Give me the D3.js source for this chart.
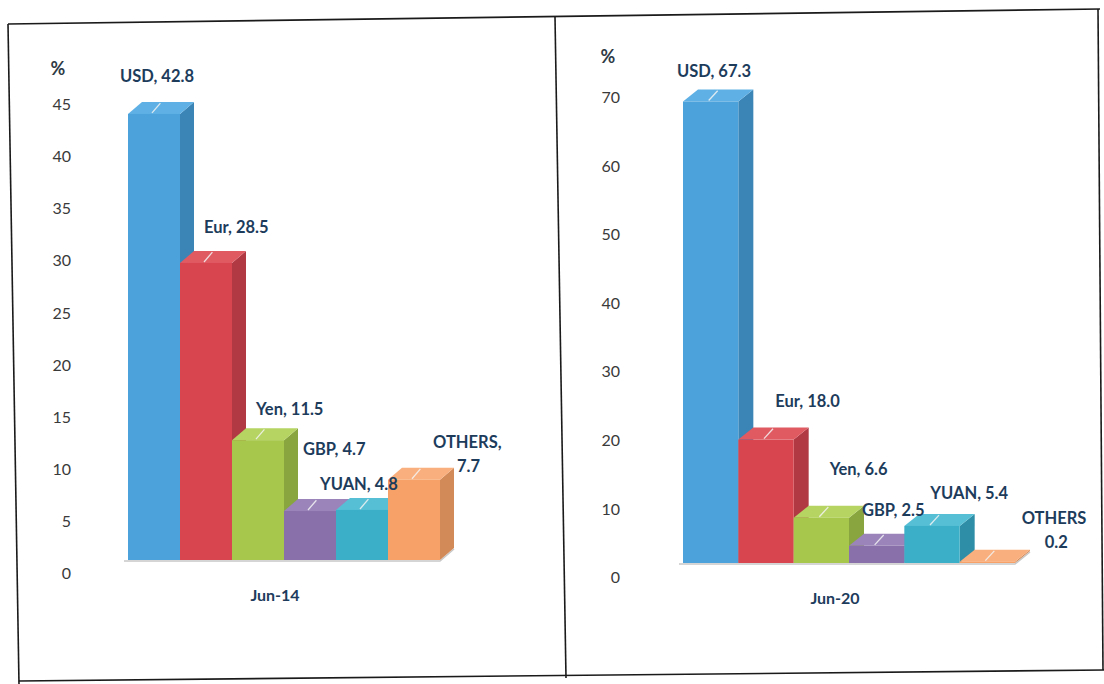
<!DOCTYPE html>
<html>
<head>
<meta charset="utf-8">
<script src="https://cdn.jsdelivr.net/npm/d3@7"></script>
<style>
  html, body { margin: 0; padding: 0; background: #ffffff; }
  svg { display: block; }
  .tick-label { font-family: Lato, "Open Sans", sans-serif; font-size: 16px; fill: #3a3a3a; }
  .val-label { font-family: Lato, "Open Sans", sans-serif; font-size: 16.5px; font-weight: 700; fill: #1d3c5c; }
  .cat-label { font-family: Lato, "Open Sans", sans-serif; font-size: 16px; font-weight: 700; fill: #1d3c5c; }
</style>
</head>
<body>
<svg id="chart" width="1104" height="684"></svg>
<script>
// Currency shares (%) in two snapshots
const currencies = ["USD", "Eur", "Yen", "GBP", "YUAN", "OTHERS"];
const share2014 = [42.8, 28.5, 11.5, 4.7, 4.8, 7.7];
const share2020 = [67.3, 18.0, 6.6, 2.5, 5.4, 0.2];
const periods = ["Jun-14", "Jun-20"];
const ticks2014 = [0, 5, 10, 15, 20, 25, 30, 35, 40, 45];
const ticks2020 = [0, 10, 20, 30, 40, 50, 60, 70];

// Face colours per currency: front, side, top
const palette = {
  USD:    { front: "#4ca3db", side: "#3b84b6", top: "#5fb1e5" },
  Eur:    { front: "#d8454f", side: "#b03943", top: "#e05a62" },
  Yen:    { front: "#a7c74c", side: "#88a540", top: "#b6d462" },
  GBP:    { front: "#8a70ab", side: "#6f5a90", top: "#9a84ba" },
  YUAN:   { front: "#3cafc8", side: "#2f8ea7", top: "#56bfd5" },
  OTHERS: { front: "#f7a068", side: "#d38a59", top: "#f9b07e" }
};

const svg = d3.select("#chart");

// Panel frames
const frame = svg.append("g").attr("fill", "none").attr("stroke", "#1a1a1a").attr("stroke-width", 1.6);
frame.append("line").attr("x1", 8).attr("y1", 24).attr("x2", 1100).attr("y2", 9);
frame.append("line").attr("x1", 8).attr("y1", 24).attr("x2", 19).attr("y2", 684);
frame.append("line").attr("x1", 19).attr("y1", 681).attr("x2", 1104).attr("y2", 670);
frame.append("line").attr("x1", 555).attr("y1", 17).attr("x2", 566).attr("y2", 678);
frame.append("line").attr("x1", 1098).attr("y1", 9).attr("x2", 1103).attr("y2", 670);

// Layout for each panel; label offsets are relative to the bar's back-top-left corner
const panels = [
  {
    values: share2014, ticks: ticks2014, period: periods[0],
    max: 45, base: 560, top: 91, axisBase: 573, axisTop: 104,
    axisX: 71, pctPos: [58, 75],
    x0: 128, x1: 440, dx: 14, dy: -12,
    catPos: [275, 601],
    labelOffsets: [[-22, -20], [10, -18], [10, -13], [5, -44], [-30, -8], [31, -20]],
    otherLines: v => ["OTHERS,", v.toFixed(1)], otherIndent: 24
  },
  {
    values: share2020, ticks: ticks2020, period: periods[1],
    max: 70, base: 563, top: 83, axisBase: 577, axisTop: 97,
    axisX: 620, pctPos: [608, 63],
    x0: 683, x1: 1015, dx: 15, dy: -12,
    catPos: [835, 604],
    labelOffsets: [[-21, -13], [22, -21], [21, -31], [-2, -18], [11, -15], [47, -26]],
    otherLines: v => ["OTHERS", v.toFixed(1)], otherIndent: 23
  }
];

panels.forEach(p => {
  const g = svg.append("g");

  // Scale for the bars (front plane) and for the value axis labels
  const y = d3.scaleLinear().domain([0, p.max]).range([p.base, p.top]);
  const yAxis = d3.scaleLinear().domain([0, p.max]).range([p.axisBase, p.axisTop]);
  const x = d3.scaleBand().domain(currencies).range([p.x0, p.x1]).paddingInner(0).paddingOuter(0);

  // Value axis: labels only
  const axis = d3.axisLeft(yAxis).tickValues(p.ticks).tickSize(0).tickPadding(0).tickFormat(d3.format("d"));
  const ag = g.append("g").attr("transform", `translate(${p.axisX},0)`).call(axis);
  ag.select(".domain").remove();
  ag.selectAll("text").attr("class", "tick-label").attr("dy", "0.35em").attr("fill", null);

  g.append("text").attr("class", "tick-label")
    .attr("x", p.pctPos[0]).attr("y", p.pctPos[1])
    .attr("text-anchor", "middle").style("font-size", "18px").style("font-weight", 700)
    .style("fill", "#2e3a45").text("%");

  // Floor edge
  g.append("path")
    .attr("d", `M${p.x0 - 4},${p.base + 1} L${p.x1},${p.base + 1} L${p.x1 + p.dx},${p.base + p.dy + 1}`)
    .attr("fill", "none").attr("stroke", "#c8c8c8").attr("stroke-width", 1.5);

  const bars = currencies.map((c, i) => {
    const v = p.values[i];
    const bx0 = x(c), bx1 = x(c) + x.bandwidth();
    return { c, v, bx0, bx1, yt: y(v), yb: y(0) };
  });

  bars.forEach(b => {
    const col = palette[b.c];
    const bg = g.append("g");
    // right side face
    bg.append("path")
      .attr("d", `M${b.bx1},${b.yt} L${b.bx1 + p.dx},${b.yt + p.dy} L${b.bx1 + p.dx},${b.yb + p.dy} L${b.bx1},${b.yb} Z`)
      .attr("fill", col.side);
    // top face
    bg.append("path")
      .attr("d", `M${b.bx0},${b.yt} L${b.bx1},${b.yt} L${b.bx1 + p.dx},${b.yt + p.dy} L${b.bx0 + p.dx},${b.yt + p.dy} Z`)
      .attr("fill", col.top);
    // front face
    bg.append("rect")
      .attr("x", b.bx0).attr("y", b.yt)
      .attr("width", b.bx1 - b.bx0).attr("height", Math.max(0, b.yb - b.yt))
      .attr("fill", col.front);
    // leader line across the top face
    const mx = (b.bx0 + b.bx1) / 2;
    bg.append("line")
      .attr("x1", mx - 2).attr("y1", b.yt - 1)
      .attr("x2", mx + p.dx * 0.6 - 2).attr("y2", b.yt + p.dy * 0.9)
      .attr("stroke", "#f4f4f4").attr("stroke-width", 1.3).attr("opacity", 0.85);
  });

  // Data labels
  bars.forEach((b, i) => {
    const off = p.labelOffsets[i];
    const lx = b.bx0 + p.dx + off[0];
    const ly = b.yt + p.dy + off[1];
    if (b.c === "OTHERS") {
      const lines = p.otherLines(b.v);
      const t = g.append("text").attr("class", "val-label").attr("x", lx).attr("y", ly);
      t.append("tspan").attr("x", lx).attr("dy", 0).text(lines[0]);
      t.append("tspan").attr("x", lx + p.otherIndent).attr("dy", 24).text(lines[1]);
    } else {
      g.append("text").attr("class", "val-label").attr("x", lx).attr("y", ly)
        .text(`${b.c}, ${b.v.toFixed(1)}`);
    }
  });

  // Category label
  g.append("text").attr("class", "cat-label")
    .attr("x", p.catPos[0]).attr("y", p.catPos[1])
    .attr("text-anchor", "middle").text(p.period);
});
</script>
</body>
</html>
